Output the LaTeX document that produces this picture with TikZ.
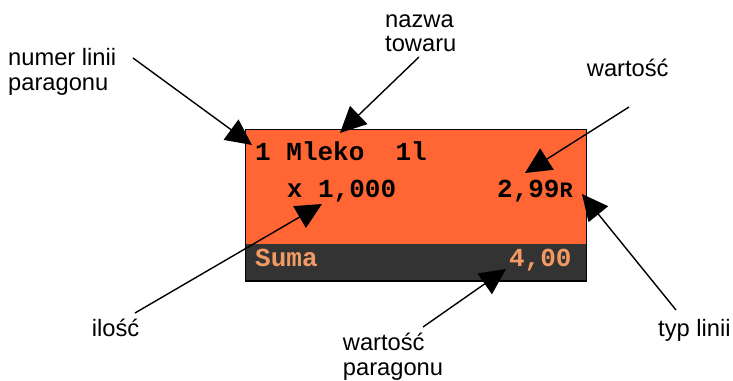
\documentclass[tikz,border=0pt]{standalone}
\usepackage{fontspec}
\setmainfont{Liberation Sans}
\newfontfamily\tillfont{Liberation Mono}
\usepackage{xcolor}
\usepackage{tikz}
\usetikzlibrary{arrows.meta,positioning}
\definecolor{tillorange}{HTML}{FF6633}
\definecolor{tilldark}{HTML}{333333}
\definecolor{sumorange}{HTML}{F39A62}
\begin{document}
\begin{tikzpicture}[
  x=1pt,y=-1pt,
  lbl/.style={align=left,inner sep=0pt,font=\fontsize{23.7}{24.2}\selectfont},
  till/.style={inner sep=0pt,font=\tillfont\bfseries\fontsize{26}{26}\selectfont},
  arr/.style={-{Triangle[length=26pt,width=25pt]},line width=1.4pt}
]
\useasboundingbox (0,0) rectangle (733,380);
% receipt display
\fill[tillorange] (245.7,129.3) rectangle (586.7,244);
\fill[tilldark] (245.7,244) rectangle (586.7,281);
\draw[line width=1.2pt] (245.7,129.3) rectangle (586.7,281);
\node[till,anchor=base west] (line1) at (255,160) {1 Mleko\ \ 1l};
\node[till,anchor=base west] (qty) at (286.7,197.7) {x 1,000};
\node[till,anchor=base east] (price) at (573,197.7) {2,99{\fontsize{22}{22}\selectfont R}};
\node[till,anchor=base west,text=sumorange] (suma) at (255,266) {Suma};
\node[till,anchor=base east,text=sumorange] (total) at (571.7,266) {4,00};
% labels (base = last line)
\node[lbl,anchor=base west] (numer) at (8,90) {numer linii\\paragonu};
\node[lbl,anchor=base west] (nazwa) at (385,51.7) {nazwa\\towaru};
\node[lbl,anchor=base west] (wart) at (586.7,76) {wartość};
\node[lbl,anchor=base west] (typ) at (658,336.7) {typ linii};
\node[lbl,anchor=base west] (ilosc) at (91.7,336.7) {ilość};
\node[lbl,anchor=base west] (wartpar) at (342.7,375) {wartość\\paragonu};
% arrow ends
\coordinate (numerS) at (133,58);   \coordinate (numerT) at (252,145);
\coordinate (nazwaS) at (419,57);   \coordinate (nazwaT) at (340,133);
\coordinate (wartS) at (629,107);   \coordinate (wartT) at (525,173);
\coordinate (typS) at (676,310);    \coordinate (typT) at (582,194);
\coordinate (iloscS) at (135,313);  \coordinate (iloscT) at (322,204);
\coordinate (wartparS) at (423,327);\coordinate (wartparT) at (506,269);
\draw[arr] (numerS) -- (numerT);
\draw[arr] (nazwaS) -- (nazwaT);
\draw[arr] (wartS) -- (wartT);
\draw[arr] (typS) -- (typT);
\draw[arr] (iloscS) -- (iloscT);
\draw[arr] (wartparS) -- (wartparT);
\end{tikzpicture}
\end{document}
